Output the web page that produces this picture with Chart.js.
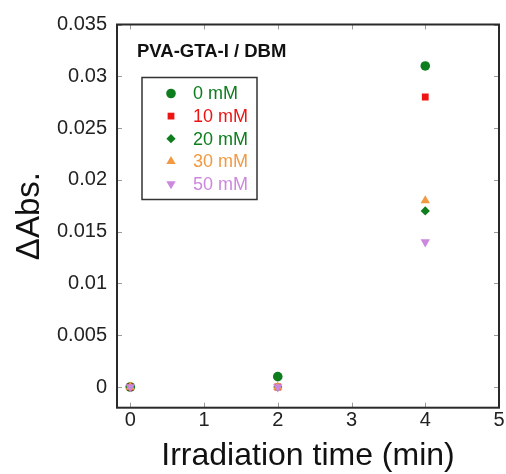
<!DOCTYPE html>
<html><head><meta charset="utf-8">
<script src="https://cdn.jsdelivr.net/npm/chart.js@4/dist/chart.umd.min.js"></script>
<style>html,body{margin:0;padding:0;background:#fff}</style>
</head><body>
<canvas id="c" width="506" height="474"></canvas>
<script>
// ---- data ----
const times = [0, 2, 4];
const seriesLabels = ['0 mM', '10 mM', '20 mM', '30 mM', '50 mM'];
const s0mM  = [0, 0.001, 0.031];
const s10mM = [0, 0, 0.028];
const s20mM = [0, 0, 0.017];
const s30mM = [0, 0, 0.018];
const s50mM = [0, 0, 0.014];
const xTicks = [0, 1, 2, 3, 4, 5];
const yTicks = [0, 0.005, 0.01, 0.015, 0.02, 0.025, 0.03, 0.035];
const xRange = [-0.18, 5];
const yRange = [-0.002, 0.035];
const chartTitle = 'PVA-GTA-I / DBM';
const xTitle = 'Irradiation time (min)';
const yTitle = '\u0394Abs.';

const FONT = '"Liberation Sans", Arial, sans-serif';
const seriesValues = [s0mM, s10mM, s20mM, s30mM, s50mM];
const styles = [
  {color: '#0d7d1d', pointStyle: 'circle', r: 4.8, rot: 0},
  {color: '#ee1414', pointStyle: 'rect', r: 4.8, rot: 0},
  {color: '#0d7d1d', pointStyle: 'rectRot', r: 4.6, rot: 0},
  {color: '#f29a42', pointStyle: 'triangle', r: 5.4, rot: 0},
  {color: '#cc88dd', pointStyle: 'triangle', r: 5.4, rot: 180}
];
const drawOrder = [4, 3, 2, 1, 0];

const datasets = seriesLabels.map((lab, i) => ({
  label: lab,
  data: times.map((t, j) => ({x: t, y: seriesValues[i][j]})),
  backgroundColor: styles[i].color,
  borderColor: styles[i].color,
  pointBackgroundColor: styles[i].color,
  pointBorderWidth: 0,
  pointStyle: styles[i].pointStyle,
  pointRadius: styles[i].r,
  pointRotation: styles[i].rot,
  showLine: false,
  order: drawOrder[i]
}));

function drawMarker(ctx, st, x, y) {
  ctx.save();
  ctx.fillStyle = st.color;
  if (Chart.helpers && Chart.helpers.drawPoint) {
    Chart.helpers.drawPoint(ctx, {pointStyle: st.pointStyle, radius: st.r, rotation: st.rot, borderWidth: 0}, x, y);
  } else {
    ctx.beginPath(); ctx.arc(x, y, st.r, 0, Math.PI * 2); ctx.fill();
  }
  ctx.restore();
}

const framePlugin = {
  id: 'frame',
  beforeDatasetsDraw(chart) {
    const {ctx, chartArea: a, scales: {x, y}} = chart;
    ctx.save();
    ctx.strokeStyle = '#9a9a9a';
    ctx.lineWidth = 1;
    const L = 5;
    ctx.beginPath();
    xTicks.forEach(v => {
      const px = Math.round(x.getPixelForValue(v)) + 0.5;
      ctx.moveTo(px, a.bottom); ctx.lineTo(px, a.bottom - L);
      ctx.moveTo(px, a.top); ctx.lineTo(px, a.top + L);
    });
    yTicks.forEach(v => {
      const py = Math.round(y.getPixelForValue(v)) + 0.5;
      ctx.moveTo(a.left, py); ctx.lineTo(a.left + L, py);
      ctx.moveTo(a.right, py); ctx.lineTo(a.right - L, py);
    });
    ctx.stroke();
    ctx.strokeStyle = '#2a2a2a';
    ctx.lineWidth = 2;
    ctx.strokeRect(a.left, a.top, a.right - a.left, a.bottom - a.top);
    ctx.restore();
  },
  afterDraw(chart) {
    const {ctx} = chart;
    ctx.save();
    ctx.fillStyle = '#111';
    ctx.font = 'bold 18.5px ' + FONT;
    ctx.textBaseline = 'middle';
    ctx.textAlign = 'left';
    ctx.fillText(chartTitle, 137, 52);
    ctx.strokeStyle = '#333';
    ctx.lineWidth = 1.5;
    ctx.strokeRect(142, 77.5, 115, 122);
    ctx.font = '18px ' + FONT;
    seriesLabels.forEach((lab, i) => {
      const yy = 93.5 + i * 22.6;
      drawMarker(ctx, styles[i], 171, yy);
      ctx.fillStyle = styles[i].color;
      ctx.fillText(lab, 193, yy + 1);
    });
    ctx.restore();
  }
};

new Chart(document.getElementById('c'), {
  type: 'scatter',
  data: {datasets},
  options: {
    responsive: false,
    animation: false,
    devicePixelRatio: 1,
    layout: {padding: {top: 24.5, right: 7, left: 0, bottom: 0}},
    plugins: {legend: {display: false}, tooltip: {enabled: false}},
    scales: {
      x: {
        type: 'linear',
        min: xRange[0], max: xRange[1],
        afterBuildTicks: s => { s.ticks = xTicks.map(v => ({value: v})); },
        afterFit: s => { s.height = 66.3; s.paddingLeft = 0; s.paddingRight = 0; },
        grid: {display: false, drawTicks: false},
        border: {display: false},
        ticks: {font: {family: FONT, size: 20}, color: '#222', padding: 1, maxRotation: 0, autoSkip: false, callback: v => String(v)},
        title: {display: true, text: xTitle, color: '#111', font: {family: FONT, size: 32, lineHeight: 1.125}, padding: {top: 0, bottom: 0}}
      },
      y: {
        type: 'linear',
        min: yRange[0], max: yRange[1],
        afterBuildTicks: s => { s.ticks = yTicks.map(v => ({value: v})); },
        afterFit: s => { s.width = 117; s.paddingTop = 0; s.paddingBottom = 0; },
        grid: {display: false, drawTicks: false},
        border: {display: false},
        ticks: {font: {family: FONT, size: 20}, color: '#222', padding: 10, autoSkip: false, callback: v => String(v)},
        title: {display: true, text: yTitle, color: '#111', font: {family: FONT, size: 33, lineHeight: 1.2}, padding: {top: 10, bottom: 0}}
      }
    }
  },
  plugins: [framePlugin]
});
</script>
</body></html>
